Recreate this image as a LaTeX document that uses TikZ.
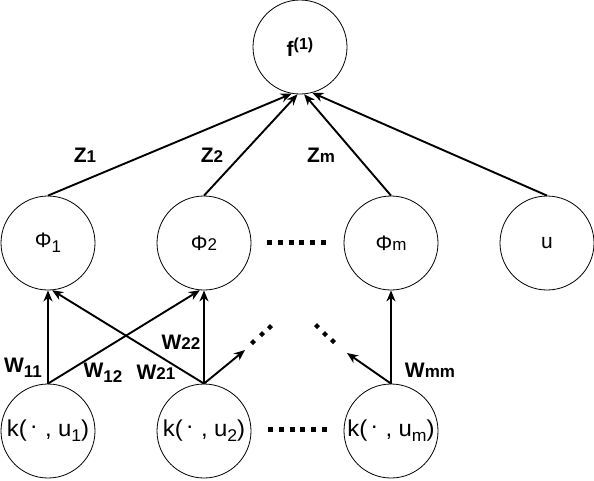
\documentclass[tikz,border=0pt]{standalone}
\usepackage{fontspec}
\setmainfont{Liberation Sans}
\usetikzlibrary{arrows.meta,calc}
\newcommand{\lowsub}[1]{\raisebox{-5pt}{\fontsize{17}{17}\selectfont #1}}
\newcommand{\insub}[1]{{\fontsize{17}{17}\selectfont #1}}
\newcommand{\kfun}[1]{\scalebox{1.04}[1]{k(\hspace{3pt}\raisebox{3pt}{·}\hspace{7pt},\hspace{6pt}u\lowsub{#1})}}
\tikzset{
  unit/.style={circle,draw=black,line width=0.8pt,minimum size=94pt,inner sep=0pt,font=\fontsize{21}{21}\selectfont},
  kunit/.style={unit,font=\fontsize{23}{23}\selectfont},
  conn/.style={line width=1.9pt,-{Stealth[length=11pt,width=9pt,inset=3.5pt]}},
  wlabel/.style={font=\fontsize{21}{21}\selectfont\bfseries,inner sep=0pt},
  hdots/.style={line width=5pt,dash pattern=on 5pt off 5.8pt},
}
\newcommand{\diadot}[2]{\fill (#1,#2) +(-3,0) -- +(0,-3) -- +(3,0) -- +(0,3) -- cycle;}
\begin{document}
\begin{tikzpicture}[x=1pt,y=-1pt]
\useasboundingbox (0,0) rectangle (594,480);
\node[unit] (f) at (300,47) {\bfseries f\raisebox{7pt}{\fontsize{16}{16}\selectfont (1)}};
\node[unit] (p1) at (48,243) {Φ\lowsub{1}};
\node[unit] (p2) at (204,243) {Φ\insub{2}};
\node[unit] (pm) at (391,243) {Φ\insub{m}};
\node[unit] (u) at (547,243) {u};
\node[kunit] (k1) at (48,431) {\kfun{1}};
\node[kunit] (k2) at (204,431) {\kfun{2}};
\node[kunit] (km) at (391,431) {\kfun{m}};
\coordinate (e2) at (245,350);
\coordinate (em) at (347,353);

\draw[conn] (p1.north) -- (f.260);
\draw[conn] (p2.north) -- (f.267);
\draw[conn] (pm.north) -- (f.275);
\draw[conn] (u.north) -- (f.285);

\draw[conn] (k1.north) -- (p1.south);
\draw[conn] (k1.north) -- (p2.265);
\draw[conn] (k2.north) -- (p1.275);
\draw[conn] (k2.north) -- (p2.south);
\draw[conn] (k2.north) -- (e2);
\draw[conn] (km.north) -- (pm.south);
\draw[conn] (km.north) -- (em);

\node[wlabel] (z1) at (85,155) {Z\insub{1}};
\node[wlabel] (z2) at (212,155) {Z\insub{2}};
\node[wlabel] (zm) at (321,155) {Z\insub{m}};
\node[wlabel] (w11) at (23,368) {W\lowsub{\bfseries 11}};
\node[wlabel] (w12) at (103,373) {W\lowsub{\bfseries 12}};
\node[wlabel] (w21) at (156,372) {W\insub{\bfseries 21}};
\node[wlabel] (w22) at (181,342) {W\insub{\bfseries 22}};
\node[wlabel] (wmm) at (430,370) {W\insub{\bfseries mm}};

\draw[hdots] (267,242) -- (327,242);
\draw[hdots] (268,429.5) -- (328,429.5);
\diadot{253}{342}\diadot{262}{334}\diadot{270}{327}
\diadot{317}{326}\diadot{325}{334}\diadot{333}{341}
\end{tikzpicture}
\end{document}
